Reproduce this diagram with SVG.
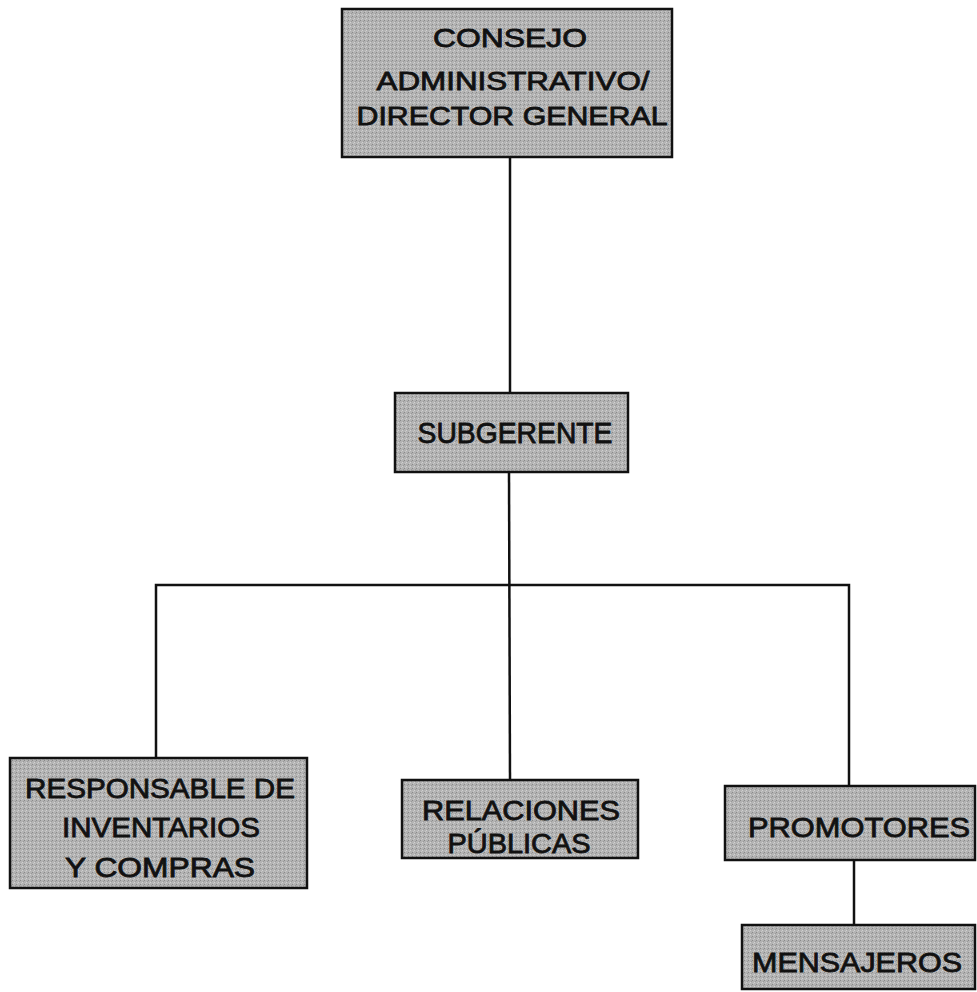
<svg xmlns="http://www.w3.org/2000/svg" width="977" height="992" viewBox="0 0 977 992">
<defs>
<pattern id="dots" width="4" height="4" patternUnits="userSpaceOnUse">
<rect width="4" height="4" fill="#b3b3b3"/>
<rect x="0" y="0" width="1" height="1" fill="#8a8a8a"/>
<rect x="2" y="2" width="1" height="1" fill="#d2d2d2"/>
<rect x="3" y="1" width="1" height="1" fill="#9a9a9a"/>
<rect x="1" y="3" width="1" height="1" fill="#c8c8c8"/>
</pattern>
</defs>
<style>
.box{fill:url(#dots);stroke:#111;stroke-width:2.5}
.lbl{font-family:"Liberation Sans",Arial,sans-serif;font-size:26px;fill:#111;stroke:#111;stroke-width:0.8;text-anchor:middle}
.con{fill:none;stroke:#111;stroke-width:2.5}
</style>
<rect width="977" height="992" fill="#fff"/>
<g id="connectors">
<line class="con" x1="510" y1="157" x2="510" y2="393"/>
<line class="con" x1="509" y1="472" x2="510" y2="780"/>
<polyline class="con" points="156,758 156,585 849,585 849,786"/>
<line class="con" x1="854" y1="860" x2="854" y2="925"/>
</g>
<g id="consejo">
<rect class="box" x="342" y="9" width="330" height="148"/>
<text class="lbl" x="510" y="47" textLength="154" lengthAdjust="spacingAndGlyphs">CONSEJO</text>
<text class="lbl" x="513" y="90" textLength="273" lengthAdjust="spacingAndGlyphs">ADMINISTRATIVO/</text>
<text class="lbl" x="512" y="125" textLength="311" lengthAdjust="spacingAndGlyphs">DIRECTOR GENERAL</text>
</g>
<g id="subgerente">
<rect class="box" x="395" y="393" width="233" height="79"/>
<text class="lbl" x="515" y="443" textLength="195" lengthAdjust="spacingAndGlyphs" style="font-size:29px">SUBGERENTE</text>
</g>
<g id="responsable">
<rect class="box" x="10" y="758" width="297" height="130"/>
<text class="lbl" x="160" y="798" textLength="270" lengthAdjust="spacingAndGlyphs" style="font-size:27px">RESPONSABLE DE</text>
<text class="lbl" x="161" y="837" textLength="198" lengthAdjust="spacingAndGlyphs" style="font-size:27px">INVENTARIOS</text>
<text class="lbl" x="160" y="877" textLength="190" lengthAdjust="spacingAndGlyphs" style="font-size:27px">Y COMPRAS</text>
</g>
<g id="relaciones">
<rect class="box" x="402" y="780" width="236" height="78"/>
<text class="lbl" x="521" y="820" textLength="198" lengthAdjust="spacingAndGlyphs" style="font-size:27px">RELACIONES</text>
<text class="lbl" x="519" y="853" textLength="143" lengthAdjust="spacingAndGlyphs" style="font-size:27px">PÚBLICAS</text>
</g>
<g id="promotores">
<rect class="box" x="725" y="786" width="250" height="74"/>
<text class="lbl" x="859" y="837" textLength="222" lengthAdjust="spacingAndGlyphs" style="font-size:28px">PROMOTORES</text>
</g>
<g id="mensajeros">
<rect class="box" x="742" y="925" width="233" height="64"/>
<text class="lbl" x="857" y="972" textLength="210" lengthAdjust="spacingAndGlyphs" style="font-size:28px">MENSAJEROS</text>
</g>
</svg>
